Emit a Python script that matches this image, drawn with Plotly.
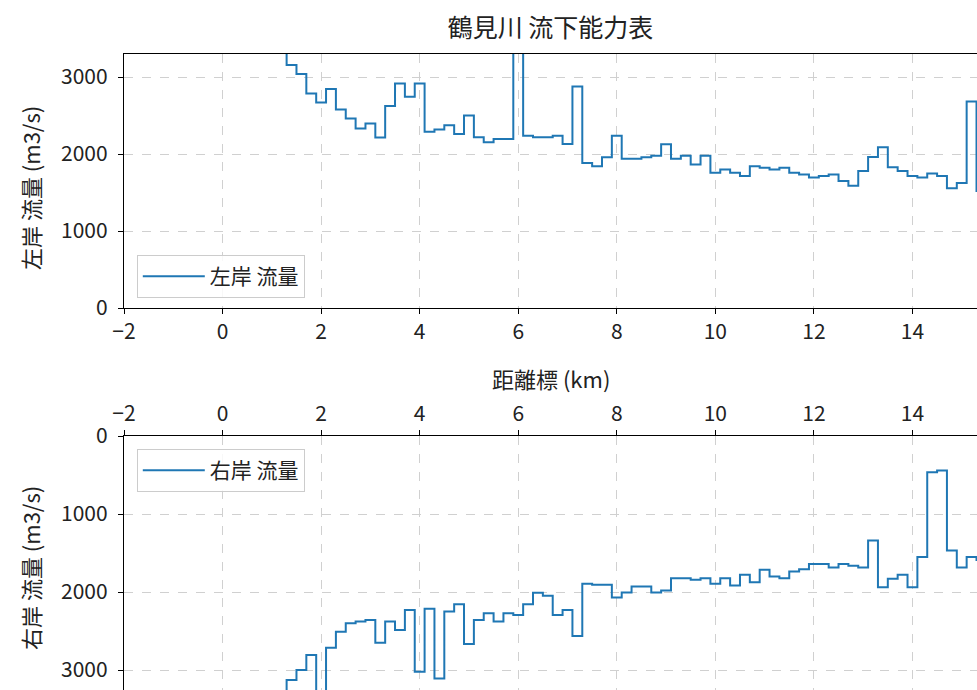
import plotly.graph_objects as go

# distance markers (km) shared by both banks
km = [1.2, 1.4, 1.6, 1.8, 2.0, 2.2, 2.4, 2.6, 2.8, 3.0,
      3.2, 3.4, 3.6, 3.8, 4.0, 4.2, 4.4, 4.6, 4.8, 5.0,
      5.2, 5.4, 5.6, 5.8, 6.0, 6.2, 6.4, 6.6, 6.8, 7.0,
      7.2, 7.4, 7.6, 7.8, 8.0, 8.2, 8.4, 8.6, 8.8, 9.0,
      9.2, 9.4, 9.6, 9.8, 10.0, 10.2, 10.4, 10.6, 10.8, 11.0,
      11.2, 11.4, 11.6, 11.8, 12.0, 12.2, 12.4, 12.6, 12.8, 13.0,
      13.2, 13.4, 13.6, 13.8, 14.0, 14.2, 14.4, 14.6, 14.8, 15.0,
      15.2, 15.4]

# left-bank flow capacity (m3/s)
left_flow = [3500, 3156, 3039, 2788, 2671, 2844, 2580, 2463, 2333, 2398,
             2216, 2623, 2918, 2745, 2918, 2290, 2320, 2375, 2260, 2500,
             2217, 2153, 2196, 2196, 3600, 2238, 2217, 2217, 2238, 2132,
             2877, 1885, 1843, 1957, 2238, 1940, 1940, 1957, 1979, 2128,
             1940, 1979, 1864, 1979, 1757, 1800, 1757, 1715, 1843, 1821,
             1800, 1821, 1757, 1736, 1694, 1715, 1736, 1651, 1587, 1779,
             1962, 2089, 1830, 1779, 1715, 1694, 1749, 1715, 1557, 1625,
             2683, 1520]

# right-bank flow capacity (m3/s)
right_flow = [3400, 3128, 3000, 2807, 3400, 2713, 2508, 2400, 2379, 2358,
              2649, 2379, 2486, 2229, 3021, 2216, 3107, 2250, 2156, 2666,
              2358, 2272, 2379, 2272, 2293, 2156, 2010, 2049, 2293, 2229,
              2563, 1895, 1908, 1908, 2071, 2006, 1929, 1929, 2006, 1981,
              1822, 1822, 1844, 1822, 1895, 1822, 1917, 1779, 1874, 1715,
              1801, 1822, 1737, 1707, 1642, 1642, 1685, 1642, 1664, 1685,
              1338, 1938, 1831, 1779, 1938, 1552, 465, 443, 1467, 1685,
              1552, 1590]

x_ticks = [-2, 0, 2, 4, 6, 8, 10, 12, 14]
y_ticks = [0, 1000, 2000, 3000]

W, H = 977, 690
FONT = "Noto Sans CJK JP"
LINE = "#1f77b4"
GRID = "#d0d0d0"

fig = go.Figure()
fig.add_trace(go.Scatter(x=km, y=left_flow, mode="lines", line_shape="hvh",
                         line=dict(color=LINE, width=2), name="左岸 流量",
                         xaxis="x", yaxis="y", legend="legend", showlegend=True))
fig.add_trace(go.Scatter(x=km, y=right_flow, mode="lines", line_shape="hvh",
                         line=dict(color=LINE, width=2), name="右岸 流量",
                         xaxis="x2", yaxis="y2", legend="legend2", showlegend=True))

axis_common = dict(showgrid=True, gridcolor=GRID, griddash="dash", gridwidth=1,
                   zeroline=False, showline=True, linecolor="black", linewidth=1.3,
                   ticks="outside", ticklen=5, tickwidth=1.3, tickcolor="black",
                   automargin=False,
                   tickfont=dict(size=21, color="#222"))

top_dom = [1 - 308 / H, 1 - 54 / H]
bot_dom = [0, 1 - 436 / H]

legend_common = dict(bgcolor="rgba(255,255,255,0.85)", bordercolor="#cccccc",
                     borderwidth=1, font=dict(size=21, color="#222"),
                     itemwidth=62,
                     xanchor="left", yanchor="top", x=0.015)

fig.update_layout(
    width=W, height=H,
    margin=dict(l=124, r=0, t=0, b=0, autoexpand=False),
    paper_bgcolor="white", plot_bgcolor="white",
    showlegend=True,
    font=dict(family=FONT, color="#222"),
    title=dict(text="鶴見川 流下能力表", x=0.5, xref="paper",
               y=1 - 28 / H, yref="container", yanchor="middle",
               xanchor="center", font=dict(size=25, color="#222")),
    xaxis=dict(axis_common, range=[-2, 15.31], tickvals=x_ticks,
               mirror=True, anchor="y", domain=[0, 1]),
    yaxis=dict(axis_common, range=[0, 3300], tickvals=y_ticks,
               ticklabelstandoff=6, domain=top_dom, anchor="x"),
    xaxis2=dict(axis_common, range=[-2, 15.31], tickvals=x_ticks,
                side="top", anchor="y2", domain=[0, 1]),
    yaxis2=dict(axis_common, range=[3256, 0], tickvals=y_ticks,
                ticklabelstandoff=6, domain=bot_dom, anchor="x2"),
    legend=dict(legend_common, y=1 - 255 / H),
    legend2=dict(legend_common, y=1 - 449 / H),
    annotations=[
        dict(text="距離標 (km)", x=0.5, y=1 - 378 / H, xref="paper", yref="paper",
             showarrow=False, xanchor="center", yanchor="middle",
             font=dict(size=22, color="#222")),
        dict(text="左岸 流量 (m3/s)", x=(30 - 124) / 853, y=1 - 188 / H,
             xref="paper", yref="paper", textangle=-90, showarrow=False,
             xanchor="center", yanchor="middle", font=dict(size=22, color="#222")),
        dict(text="右岸 流量 (m3/s)", x=(30 - 124) / 853, y=1 - 568 / H,
             xref="paper", yref="paper", textangle=-90, showarrow=False,
             xanchor="center", yanchor="middle", font=dict(size=22, color="#222")),
    ],
)

fig.write_html("out.html")
